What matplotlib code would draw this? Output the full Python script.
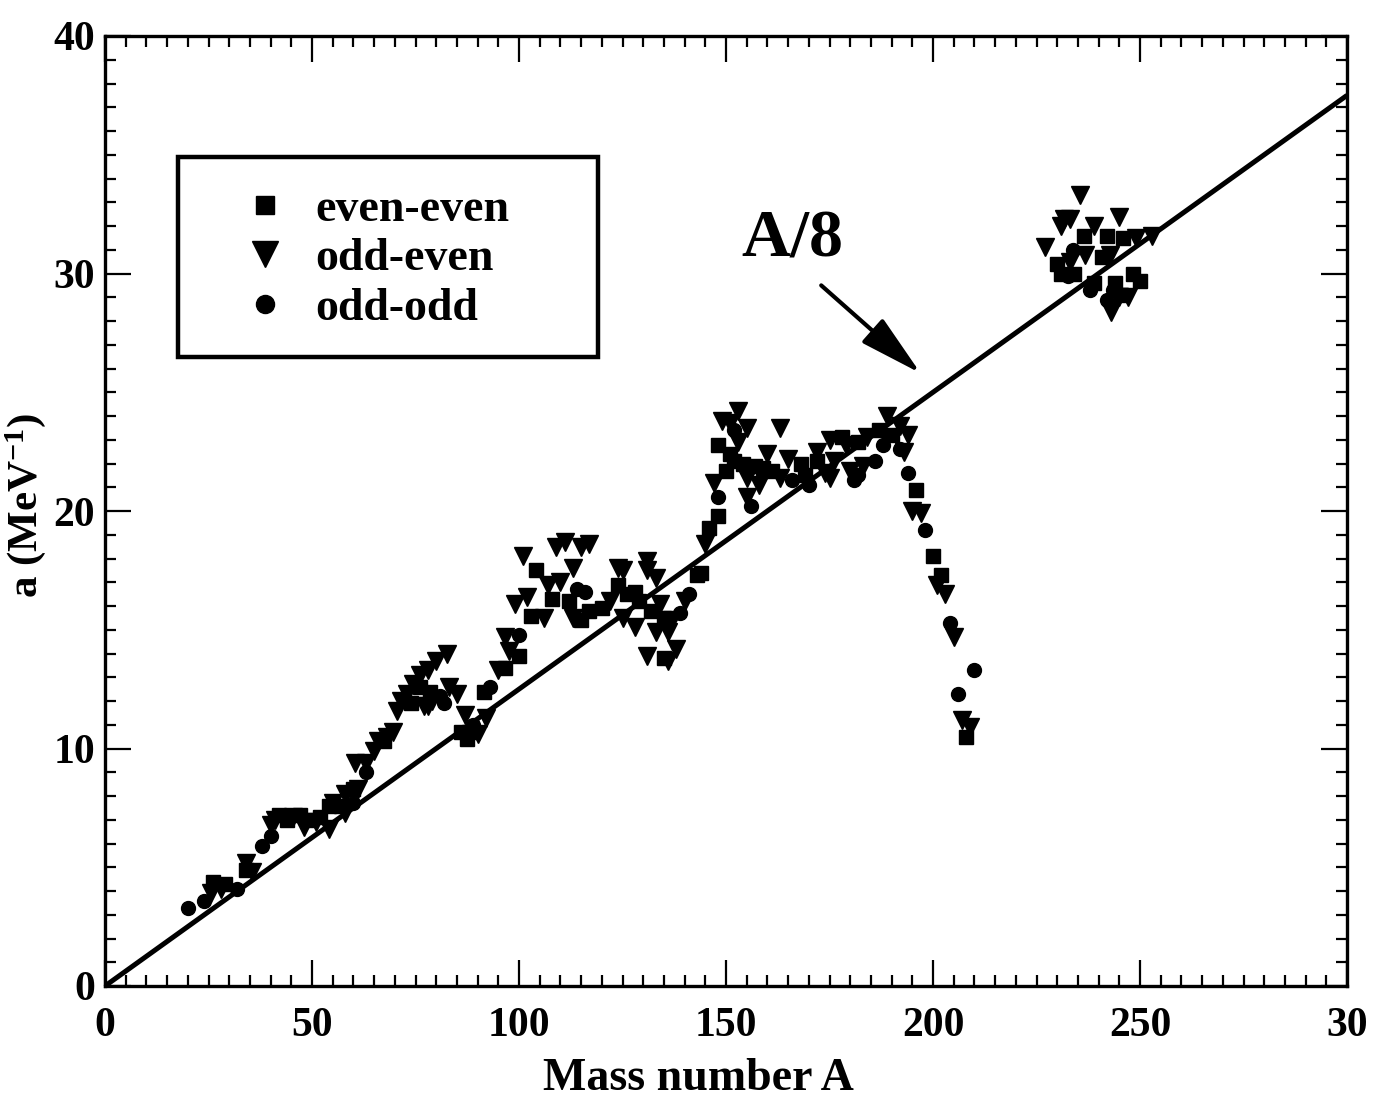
import matplotlib
matplotlib.use("Agg")
import matplotlib.pyplot as plt
from matplotlib.ticker import MultipleLocator, FixedLocator, FixedFormatter
from matplotlib.lines import Line2D
from matplotlib.patches import Rectangle

plt.rcParams['font.family'] = ['Liberation Serif', 'DejaVu Serif']
plt.rcParams['font.weight'] = 'bold'
plt.rcParams['mathtext.fontset'] = 'custom'
plt.rcParams['mathtext.rm'] = 'Liberation Serif:bold'
plt.rcParams['mathtext.it'] = 'Liberation Serif:bold'
plt.rcParams['mathtext.bf'] = 'Liberation Serif:bold'

# ---------------- data ----------------
ee_A = [26, 29, 34, 42, 44, 47, 49.5, 52, 54, 57, 60, 67.5, 74, 76, 78.5, 86, 87.5, 88, 91.5, 96.5, 100,
        103, 104, 108, 112, 115, 117, 120, 124, 126, 128, 129, 132, 135, 135, 143, 144, 146,
        148, 148, 150, 151, 152, 154, 157, 159, 161, 168, 169, 172, 178, 182, 187, 190,
        196, 200, 202, 208,
        236.5, 242, 246, 240.8, 230, 231, 234, 238.8, 248.4, 250, 244, 245.3]
ee_a = [4.4, 4.3, 4.9, 7.2, 7.0, 7.2, 7.0, 7.1, 7.6, 7.6, 8.3, 10.3, 11.9, 12.6, 12.4, 10.7, 10.4, 10.7, 12.4, 13.4, 13.9,
        15.6, 17.5, 16.3, 16.2, 15.4, 15.8, 15.9, 16.9, 16.5, 16.6, 16.2, 15.8, 15.5, 13.8, 17.3, 17.4, 19.3,
        19.8, 22.8, 21.7, 22.4, 22.1, 22.0, 21.9, 21.8, 21.7, 22.0, 21.5, 22.1, 23.1, 22.9, 23.4, 23.2,
        20.9, 18.1, 17.3, 10.5,
        31.6, 31.6, 31.5, 30.7, 30.4, 30.0, 30.0, 29.6, 30.0, 29.7, 29.6, 29.1]

oe_A = [25.5, 28, 34, 35.5, 40, 41, 45.5, 48, 51, 54, 55, 58, 58, 61, 60.5, 63, 65, 66, 68, 69.5,
        70.5, 71.5, 73, 74.5, 77, 76, 78, 79, 80, 82.5, 83, 85, 78, 87, 90, 92, 95, 97.5, 96.5,
        99, 101, 102, 106, 107, 109, 111, 110, 113, 115, 117, 113, 122, 124, 125, 131, 131, 133,
        125, 128, 134, 133, 136, 137, 131, 136, 138, 140, 145,
        147, 149, 151, 153, 155, 153, 155, 155, 155, 158, 160, 163, 163, 165, 172, 174, 175, 175,
        176, 179, 180, 183, 184, 189, 192, 194, 193,
        195, 197, 201, 203, 205, 207, 209,
        235.6, 231.6, 233, 231, 227, 239, 245, 249, 253, 236.6, 242.8, 233, 245, 247, 243]
oe_a = [3.9, 4.1, 5.2, 4.8, 6.8, 7.0, 7.1, 6.7, 6.9, 6.6, 7.7, 7.3, 8.1, 8.3, 9.4, 9.4, 9.9, 10.3, 10.5, 10.7,
        11.6, 12.0, 12.3, 12.7, 11.8, 13.1, 13.3, 12.0, 13.7, 14.0, 12.6, 12.3, 11.8, 11.4, 10.6, 11.3, 13.3, 14.1, 14.7,
        16.1, 18.1, 16.4, 15.5, 16.9, 18.5, 18.7, 17.0, 17.6, 18.5, 18.6, 15.5, 16.2, 17.6, 17.5, 17.9, 17.5, 17.2,
        15.5, 15.1, 16.1, 14.9, 14.9, 15.4, 13.9, 13.7, 14.2, 16.2, 18.6,
        21.2, 23.8, 23.7, 24.2, 23.5, 22.9, 21.7, 21.4, 20.6, 21.1, 22.4, 23.5, 21.4, 22.2, 22.5, 21.6, 21.4, 23.0,
        22.1, 22.8, 21.7, 21.9, 23.1, 24.0, 23.6, 23.2, 22.5,
        20.0, 19.9, 16.9, 16.5, 14.7, 11.2, 10.9,
        33.3, 32.3, 32.3, 32.0, 31.1, 32.0, 32.4, 31.5, 31.6, 30.8, 30.8, 30.5, 29.0, 29.0, 28.4]

oo_A = [20, 24, 32, 38, 40, 60, 63, 81, 82, 89, 93, 100,
        114, 116, 139, 141,
        148, 152, 156, 166, 170, 181, 182, 186, 188, 192, 194,
        198, 204, 206, 210,
        233.7, 232.6, 238, 243.4, 242]
oo_a = [3.3, 3.6, 4.1, 5.9, 6.3, 7.7, 9.0, 12.2, 11.9, 11.0, 12.6, 14.8,
        16.7, 16.6, 15.7, 16.5,
        20.6, 23.4, 20.2, 21.3, 21.1, 21.3, 21.5, 22.1, 22.8, 22.6, 21.6,
        19.2, 15.3, 12.3, 13.3,
        31.0, 29.9, 29.3, 29.3, 28.9]

line_A = [0, 300]
line_a = [a / 8 for a in line_A]

x_ticks = [0, 50, 100, 150, 200, 250, 300]
x_ticklabels = ["0", "50", "100", "150", "200", "250", "30"]
y_ticks = [0, 10, 20, 30, 40]
y_ticklabels = ["0", "10", "20", "30", "40"]

# ---------------- figure ----------------
fig = plt.figure(figsize=(13.73, 10.99), dpi=100)
ax = fig.add_axes([105/1373, 1 - 986/1099, 1242/1373, 950/1099])

ax.plot(line_A, line_a, color='black', lw=3.6, solid_capstyle='butt', zorder=2)
ax.plot(ee_A, ee_a, ls='none', marker='s', ms=10.5, color='black', zorder=3)
ax.plot(oe_A, oe_a, ls='none', marker='v', ms=12.5, color='black', zorder=3)
ax.plot(oo_A, oo_a, ls='none', marker='o', ms=10, color='black', zorder=3)

ax.set_xlim(0, 300)
ax.set_ylim(0, 40)

ax.xaxis.set_major_locator(FixedLocator(x_ticks))
ax.xaxis.set_major_formatter(FixedFormatter(x_ticklabels))
ax.xaxis.set_minor_locator(MultipleLocator(5))
ax.yaxis.set_major_locator(FixedLocator(y_ticks))
ax.yaxis.set_major_formatter(FixedFormatter(y_ticklabels))
ax.yaxis.set_minor_locator(MultipleLocator(1))

ax.tick_params(which='both', direction='in', top=True, right=True, width=1.6, colors='black')
ax.tick_params(which='major', length=19)
ax.tick_params(which='minor', length=8)
ax.tick_params(axis='x', which='major', pad=15, labelsize=30)
ax.tick_params(axis='y', which='major', pad=7, labelsize=30)
for lab in ax.get_xticklabels() + ax.get_yticklabels():
    lab.set_fontweight('bold')

for sp in ax.spines.values():
    sp.set_linewidth(2.4)

ax.set_xlabel("Mass number A", fontsize=33, fontweight='bold')
ax.set_ylabel(r"a (MeV$^{-1}$)", fontsize=31, fontweight='bold')
ax.xaxis.set_label_coords(0.478, -0.076)
ax.yaxis.set_label_coords(-0.046, 0.506)

# annotation
ax.text(166, 31.4, "A/8", fontsize=49, fontweight='bold', ha='center', va='center')
ax.annotate("", xy=(197, 25.8), xytext=(173, 29.5),
            arrowprops=dict(arrowstyle='-|>,head_length=1.4,head_width=0.35',
                            lw=3, color='black', mutation_scale=28,
                            shrinkA=0, shrinkB=0))

# legend (box drawn separately)
ax.add_patch(Rectangle((0.0588, 0.662), 0.338, 0.211, transform=ax.transAxes,
                       facecolor='white', edgecolor='black', lw=3.2, zorder=4))
handles = [
    Line2D([], [], ls='none', marker='s', ms=13, color='black', label='even-even'),
    Line2D([], [], ls='none', marker='v', ms=19, color='black', label='odd-even'),
    Line2D([], [], ls='none', marker='o', ms=13, color='black', label='odd-odd'),
]
leg = ax.legend(handles=handles, loc='upper left',
                bbox_to_anchor=(0.103, 0.839),
                prop={'weight': 'bold', 'size': 33},
                frameon=False, borderpad=0, handlelength=1.4, handletextpad=0.4,
                labelspacing=0.16, borderaxespad=0)
leg.set_zorder(5)

fig.savefig("out.png", dpi=100)
